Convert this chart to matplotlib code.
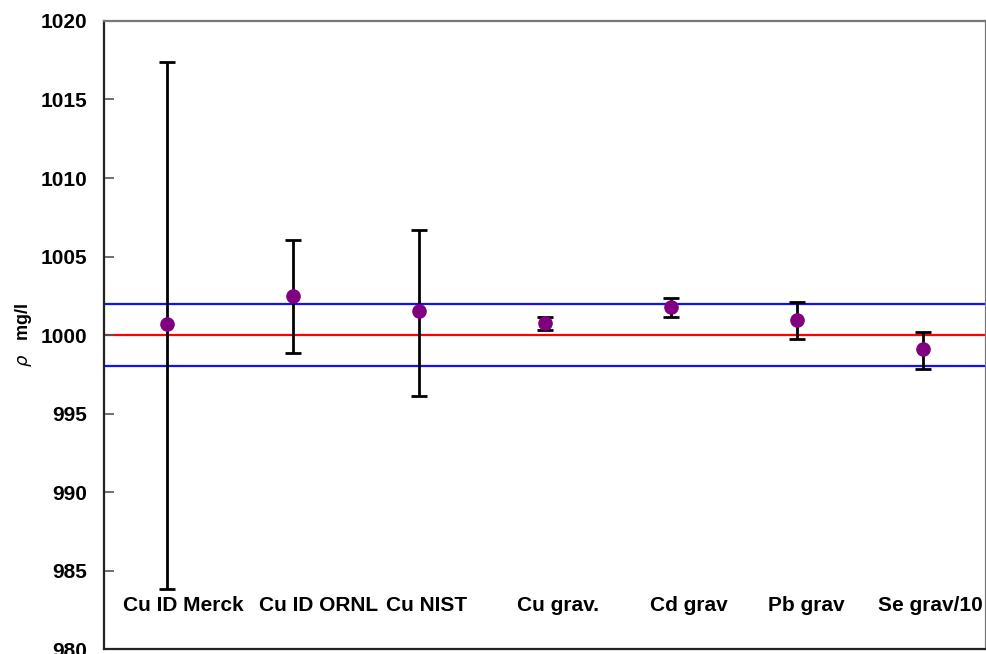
import matplotlib.pyplot as plt

# datos
muestras = ['Cu ID Merck', 'Cu ID ORNL', 'Cu NIST', 'Cu grav.', 'Cd grav', 'Pb grav', 'Se grav/10']
valores = [1000.7, 1002.5, 1001.5, 1000.78, 1001.76, 1000.98, 999.09]
err_sup = [16.7, 3.55, 5.2, 0.37, 0.58, 1.14, 1.12]
err_inf = [16.9, 3.65, 5.4, 0.48, 0.63, 1.25, 1.26]
referencia = 1000.0
limites = [998.0, 1002.0]

# borde izquierdo de cada etiqueta (en unidades del eje x)
pos_etiquetas = [0.651, 1.730, 2.738, 3.778, 4.833, 5.770, 6.643]

plt.rcParams['font.family'] = ['Liberation Sans', 'DejaVu Sans']

fig = plt.figure(figsize=(9.87, 6.54), dpi=100)
ax = fig.add_axes([0.1054, 0.0076, 0.8936, 0.9603])

x = list(range(1, len(muestras) + 1))

for y in limites:
    ax.axhline(y, color='#1010ff', lw=1.6, zorder=1)
ax.axhline(referencia, color='#ff0000', lw=1.6, zorder=1)

ax.errorbar(x, valores, yerr=[err_inf, err_sup], fmt='o', color='#800080',
            ecolor='black', elinewidth=2, capsize=6, capthick=2,
            markersize=9.5, zorder=3)

for xe, texto in zip(pos_etiquetas, muestras):
    ax.text(xe, 982.8, texto, ha='left', va='center', fontsize=15,
            fontweight='bold')

ax.set_xlim(0.5, 7.5)
ax.set_ylim(980, 1020)
ax.set_yticks(range(980, 1021, 5))
ax.set_xticks([])
ax.tick_params(axis='y', direction='in', length=7, width=1.2, color='#555555',
               labelsize=15, pad=12)
for lbl in ax.get_yticklabels():
    lbl.set_fontweight('bold')

for lado in ['left', 'bottom']:
    ax.spines[lado].set_color('#222222')
    ax.spines[lado].set_linewidth(1.6)
for lado in ['top', 'right']:
    ax.spines[lado].set_color('#777777')
    ax.spines[lado].set_linewidth(1.6)

ax.set_ylabel(r'$\rho$   mg/l', fontsize=13, fontweight='bold', labelpad=5)

plt.savefig('out.png', dpi=100)
plt.close()
